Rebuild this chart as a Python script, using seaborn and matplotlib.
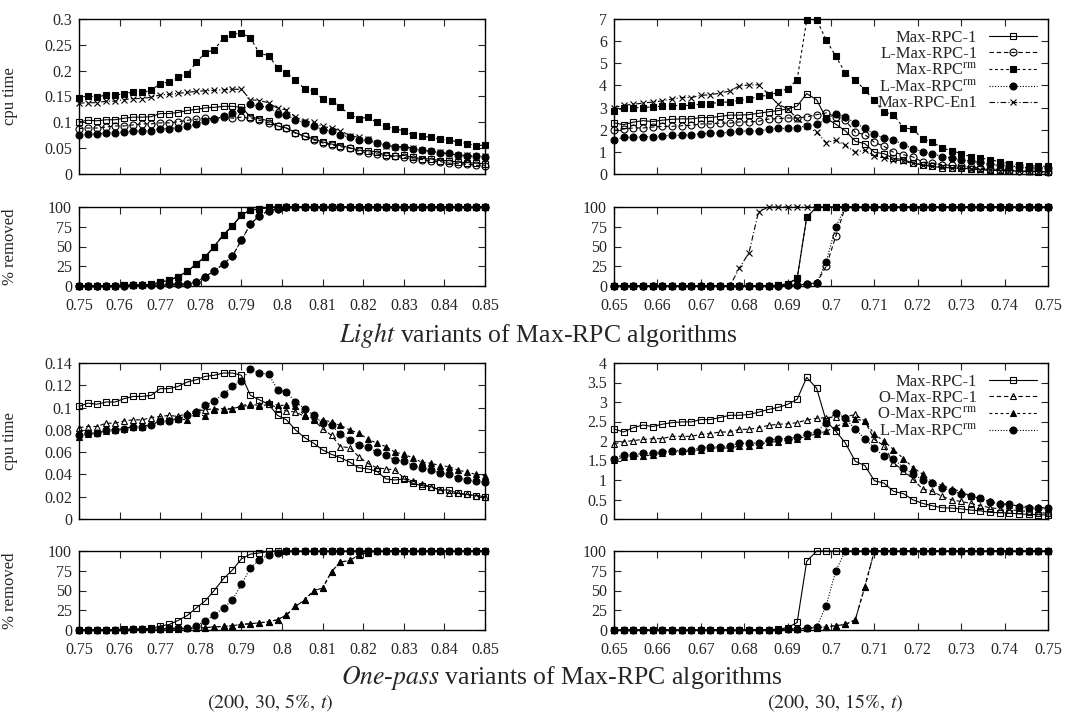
import matplotlib
matplotlib.use("Agg")
import matplotlib.pyplot as plt
import seaborn as sns
from matplotlib.ticker import FuncFormatter

sns.set_style("ticks")
plt.rcParams["font.family"] = ["Liberation Serif", "DejaVu Serif"]
plt.rcParams["mathtext.fontset"] = "stix"

# tightness values (x axis)
T_5 = [0.7500, 0.7522, 0.7544, 0.7567, 0.7589, 0.7611, 0.7633, 0.7656, 0.7678, 0.7700,
       0.7722, 0.7744, 0.7767, 0.7789, 0.7811, 0.7833, 0.7856, 0.7878, 0.7900, 0.7922,
       0.7944, 0.7967, 0.7989, 0.8011, 0.8033, 0.8056, 0.8078, 0.8100, 0.8122, 0.8144,
       0.8167, 0.8189, 0.8211, 0.8233, 0.8256, 0.8278, 0.8300, 0.8322, 0.8344, 0.8367,
       0.8389, 0.8411, 0.8433, 0.8456, 0.8478, 0.8500]
T_15 = [0.6500, 0.6522, 0.6544, 0.6567, 0.6589, 0.6611, 0.6633, 0.6656, 0.6678, 0.6700,
        0.6722, 0.6744, 0.6767, 0.6789, 0.6811, 0.6833, 0.6856, 0.6878, 0.6900, 0.6922,
        0.6944, 0.6967, 0.6989, 0.7011, 0.7033, 0.7056, 0.7078, 0.7100, 0.7122, 0.7144,
        0.7167, 0.7189, 0.7211, 0.7233, 0.7256, 0.7278, 0.7300, 0.7322, 0.7344, 0.7367,
        0.7389, 0.7411, 0.7433, 0.7456, 0.7478, 0.7500]

# cpu time, (200, 30, 5%, t)
MAXRPC1_5 = [0.101, 0.104, 0.103, 0.105, 0.105, 0.108, 0.110, 0.110, 0.111, 0.117,
             0.117, 0.119, 0.123, 0.125, 0.128, 0.129, 0.131, 0.131, 0.129, 0.111,
             0.107, 0.103, 0.093, 0.089, 0.080, 0.073, 0.068, 0.062, 0.058, 0.055,
             0.051, 0.046, 0.045, 0.043, 0.036, 0.035, 0.036, 0.032, 0.030, 0.029,
             0.026, 0.026, 0.023, 0.022, 0.021, 0.020]
LMAXRPC1_5 = [0.088, 0.089, 0.089, 0.091, 0.093, 0.093, 0.095, 0.097, 0.097, 0.099,
              0.099, 0.101, 0.104, 0.106, 0.108, 0.107, 0.110, 0.108, 0.110, 0.108,
              0.104, 0.099, 0.093, 0.089, 0.079, 0.073, 0.066, 0.060, 0.056, 0.053,
              0.050, 0.044, 0.041, 0.039, 0.035, 0.034, 0.032, 0.029, 0.028, 0.025,
              0.024, 0.021, 0.020, 0.019, 0.017, 0.016]
MAXRPCRM_5 = [0.148, 0.151, 0.149, 0.153, 0.153, 0.155, 0.159, 0.158, 0.162, 0.175,
              0.178, 0.187, 0.194, 0.216, 0.235, 0.240, 0.264, 0.270, 0.273, 0.264,
              0.234, 0.229, 0.206, 0.196, 0.181, 0.165, 0.161, 0.145, 0.142, 0.129,
              0.115, 0.107, 0.110, 0.100, 0.092, 0.087, 0.084, 0.075, 0.073, 0.071,
              0.067, 0.066, 0.062, 0.059, 0.055, 0.056]
LMAXRPCRM_5 = [0.075, 0.077, 0.077, 0.080, 0.080, 0.081, 0.083, 0.083, 0.084, 0.088,
               0.088, 0.090, 0.093, 0.096, 0.102, 0.106, 0.112, 0.119, 0.124, 0.135,
               0.131, 0.130, 0.116, 0.114, 0.105, 0.099, 0.093, 0.086, 0.084, 0.076,
               0.071, 0.066, 0.065, 0.060, 0.057, 0.053, 0.052, 0.048, 0.046, 0.044,
               0.041, 0.040, 0.037, 0.035, 0.034, 0.033]
MAXRPCEN1_5 = [0.137, 0.138, 0.138, 0.141, 0.141, 0.144, 0.146, 0.146, 0.149, 0.153,
               0.154, 0.156, 0.158, 0.160, 0.161, 0.162, 0.163, 0.164, 0.164, 0.144,
               0.142, 0.138, 0.127, 0.124, 0.111, 0.102, 0.100, 0.092, 0.089, 0.084,
               0.074, 0.071, 0.068, 0.060, 0.055, 0.053, 0.053, 0.050, 0.046, 0.044,
               0.042, 0.039, 0.037, 0.036, 0.034, 0.034]
OMAXRPC1_5 = [0.082, 0.083, 0.083, 0.086, 0.086, 0.088, 0.089, 0.089, 0.091, 0.092,
              0.093, 0.092, 0.095, 0.097, 0.098, 0.099, 0.099, 0.099, 0.101, 0.102,
              0.101, 0.103, 0.100, 0.097, 0.096, 0.092, 0.089, 0.081, 0.075, 0.065,
              0.064, 0.056, 0.050, 0.046, 0.045, 0.044, 0.037, 0.034, 0.031, 0.029,
              0.026, 0.023, 0.023, 0.022, 0.021, 0.020]
OMAXRPCRM_5 = [0.074, 0.076, 0.077, 0.079, 0.080, 0.081, 0.083, 0.083, 0.085, 0.088,
               0.089, 0.090, 0.089, 0.095, 0.092, 0.098, 0.098, 0.099, 0.102, 0.103,
               0.102, 0.105, 0.102, 0.102, 0.101, 0.093, 0.090, 0.089, 0.087, 0.084,
               0.080, 0.077, 0.072, 0.068, 0.065, 0.060, 0.058, 0.055, 0.051, 0.050,
               0.048, 0.047, 0.044, 0.042, 0.040, 0.039]

# cpu time, (200, 30, 15%, t)
MAXRPC1_15 = [2.31, 2.23, 2.34, 2.41, 2.37, 2.43, 2.47, 2.49, 2.49, 2.55,
              2.55, 2.60, 2.66, 2.66, 2.68, 2.74, 2.81, 2.86, 2.94, 3.07,
              3.63, 3.35, 2.51, 2.25, 1.95, 1.48, 1.37, 0.98, 0.92, 0.71,
              0.65, 0.49, 0.40, 0.34, 0.29, 0.28, 0.26, 0.23, 0.21, 0.17,
              0.16, 0.15, 0.13, 0.12, 0.11, 0.10]
LMAXRPC1_15 = [1.97, 2.03, 2.08, 2.08, 2.12, 2.15, 2.15, 2.18, 2.20, 2.26,
               2.26, 2.30, 2.30, 2.35, 2.35, 2.38, 2.48, 2.50, 2.53, 2.53,
               2.58, 2.68, 2.76, 2.58, 2.42, 1.88, 1.78, 1.43, 1.25, 0.98,
               0.87, 0.77, 0.54, 0.50, 0.42, 0.39, 0.35, 0.30, 0.27, 0.23,
               0.20, 0.17, 0.14, 0.12, 0.12, 0.09]
MAXRPCRM_15 = [2.83, 2.98, 3.00, 3.00, 3.03, 3.06, 3.09, 3.09, 3.10, 3.16,
               3.18, 3.24, 3.25, 3.33, 3.38, 3.51, 3.55, 3.69, 3.86, 4.26,
               6.94, 6.97, 6.04, 5.32, 4.56, 4.26, 3.78, 3.33, 2.80, 2.68,
               2.08, 2.03, 1.58, 1.45, 1.17, 1.05, 0.92, 0.78, 0.72, 0.65,
               0.55, 0.47, 0.42, 0.38, 0.35, 0.35]
LMAXRPCRM_15 = [1.55, 1.65, 1.65, 1.68, 1.69, 1.72, 1.75, 1.75, 1.78, 1.82,
                1.85, 1.85, 1.88, 1.94, 1.94, 1.95, 2.02, 2.06, 2.06, 2.10,
                2.17, 2.24, 2.47, 2.73, 2.58, 2.30, 2.06, 1.82, 1.61, 1.55,
                1.31, 1.15, 1.01, 0.92, 0.79, 0.73, 0.64, 0.58, 0.53, 0.43,
                0.39, 0.38, 0.32, 0.28, 0.28, 0.28]
MAXRPCEN1_15 = [3.00, 3.10, 3.15, 3.20, 3.25, 3.30, 3.38, 3.45, 3.45, 3.55,
                3.58, 3.65, 3.75, 3.98, 4.02, 4.03, 3.60, 3.15, 2.95, 2.50,
                2.15, 1.88, 1.42, 1.52, 1.30, 0.98, 1.08, 0.82, 0.72, 0.65,
                0.58, 0.48, 0.42, 0.38, 0.30, 0.28, 0.25, 0.22, 0.20, 0.18,
                0.15, 0.13, 0.12, 0.10, 0.10, 0.08]
OMAXRPC1_15 = [1.93, 1.98, 2.01, 2.04, 2.06, 2.06, 2.12, 2.12, 2.12, 2.17,
               2.19, 2.23, 2.23, 2.30, 2.30, 2.34, 2.40, 2.43, 2.44, 2.47,
               2.54, 2.58, 2.60, 2.62, 2.62, 2.68, 2.51, 2.04, 1.88, 1.44,
               1.24, 1.02, 0.77, 0.71, 0.58, 0.49, 0.45, 0.40, 0.34, 0.29,
               0.26, 0.23, 0.22, 0.19, 0.16, 0.15]
OMAXRPCRM_15 = [1.51, 1.59, 1.61, 1.61, 1.65, 1.68, 1.74, 1.74, 1.74, 1.78,
                1.82, 1.82, 1.82, 1.87, 1.88, 1.91, 1.97, 1.98, 2.02, 2.06,
                2.12, 2.18, 2.25, 2.37, 2.47, 2.57, 2.51, 2.17, 2.00, 1.78,
                1.55, 1.32, 1.15, 0.96, 0.86, 0.77, 0.71, 0.58, 0.53, 0.45,
                0.40, 0.36, 0.34, 0.32, 0.30, 0.28]

# % removed
REM_MAXRPC_5 = [0, 0, 0, 0, 0.5, 1, 1, 1, 2, 5,
                7, 12, 18.5, 28, 37, 50, 65, 76, 90, 96,
                97.5, 99.5, 100, 100, 100, 100, 100, 100, 100, 100,
                100, 100, 100, 100, 100, 100, 100, 100, 100, 100,
                100, 100, 100, 100, 100, 100]
REM_LMAXRPC_5 = [0, 0, 0, 0, 0.5, 0.5, 1, 1, 1, 1.5,
                 2, 2, 2.5, 5, 12, 19, 28, 38, 58, 78,
                 89, 95, 98, 100, 100, 100, 100, 100, 100, 100,
                 100, 100, 100, 100, 100, 100, 100, 100, 100, 100,
                 100, 100, 100, 100, 100, 100]
REM_OMAXRPC_5 = [0, 0, 0, 0, 0.5, 0.5, 1, 1, 1, 1.5,
                 1.5, 1.5, 2, 2.5, 3, 4, 4.5, 5.5, 7, 8,
                 9, 10.5, 13, 19, 30, 38, 50, 53, 74, 86,
                 88, 95, 98, 100, 100, 100, 100, 100, 100, 100,
                 100, 100, 100, 100, 100, 100]
REM_MAXRPC_15 = [0, 0, 0, 0, 0, 0, 0, 0, 0, 0,
                 0, 0, 0, 0, 0, 0.5, 0.5, 1, 3, 9.5,
                 87, 100, 100, 100, 100, 100, 100, 100, 100, 100,
                 100, 100, 100, 100, 100, 100, 100, 100, 100, 100,
                 100, 100, 100, 100, 100, 100]
REM_LMAXRPC1_15 = [0, 0, 0, 0, 0, 0, 0, 0, 0, 0,
                   0, 0, 0, 0, 0, 0.5, 0.5, 0.5, 1, 1,
                   2.5, 4, 25, 63, 100, 100, 100, 100, 100, 100,
                   100, 100, 100, 100, 100, 100, 100, 100, 100, 100,
                   100, 100, 100, 100, 100, 100]
REM_LMAXRPCRM_15 = [0, 0, 0, 0, 0, 0, 0, 0, 0, 0,
                    0, 0, 0, 0, 0, 0.5, 0.5, 0.5, 1, 1,
                    2.5, 4, 31, 75, 100, 100, 100, 100, 100, 100,
                    100, 100, 100, 100, 100, 100, 100, 100, 100, 100,
                    100, 100, 100, 100, 100, 100]
REM_MAXRPCEN1_15 = [0, 0, 0, 0, 0, 0, 0, 0, 0, 0,
                    0, 0, 0, 23, 42, 94, 100, 100, 100, 100,
                    100, 100, 100, 100, 100, 100, 100, 100, 100, 100,
                    100, 100, 100, 100, 100, 100, 100, 100, 100, 100,
                    100, 100, 100, 100, 100, 100]
REM_OMAXRPC_15 = [0, 0, 0, 0, 0, 0, 0, 0, 0, 0,
                  0, 0, 0, 0, 0, 0, 0, 0.5, 1, 1.5,
                  2, 3, 4, 5.5, 7, 13, 55, 100, 100, 100,
                  100, 100, 100, 100, 100, 100, 100, 100, 100, 100,
                  100, 100, 100, 100, 100, 100]

XT_5 = [0.75, 0.76, 0.77, 0.78, 0.79, 0.80, 0.81, 0.82, 0.83, 0.84, 0.85]
XT_15 = [0.65, 0.66, 0.67, 0.68, 0.69, 0.70, 0.71, 0.72, 0.73, 0.74, 0.75]
REM_TICKS = [0, 25, 50, 75, 100]

L_MAXRPC1 = "Max-RPC-1"
L_LMAXRPC1 = "L-Max-RPC-1"
L_MAXRPCRM = r"Max-RPC$^{\mathrm{rm}}$"
L_LMAXRPCRM = r"L-Max-RPC$^{\mathrm{rm}}$"
L_EN1 = "Max-RPC-En1"
L_OMAXRPC1 = "O-Max-RPC-1"
L_OMAXRPCRM = r"O-Max-RPC$^{\mathrm{rm}}$"

STYLES = {
    L_MAXRPC1:   dict(marker="s", mfc="none", ms=4.8, linestyle="-"),
    L_LMAXRPC1:  dict(marker="o", mfc="none", ms=5.0, linestyle=(0, (4, 2.5))),
    L_MAXRPCRM:  dict(marker="s", mfc="black", ms=4.8, linestyle=(0, (2.5, 2.5))),
    L_LMAXRPCRM: dict(marker="o", mfc="black", ms=5.0, linestyle=(0, (1, 1.5))),
    L_EN1:       dict(marker="x", mfc="black", ms=5.0, linestyle=(0, (5, 2, 1, 2))),
    L_OMAXRPC1:  dict(marker="^", mfc="none", ms=5.0, linestyle=(0, (4, 2.5))),
    L_OMAXRPCRM: dict(marker="^", mfc="black", ms=4.2, linestyle=(0, (2.5, 2.5))),
}

W, H = 1078, 717
fig = plt.figure(figsize=(W / 100, H / 100), dpi=100)


def box(x0, y0, x1, y1):
    return [x0 / W, 1 - y1 / H, (x1 - x0) / W, (y1 - y0) / H]


def draw(ax, x, y, label):
    st = STYLES[label]
    sns.lineplot(x=x, y=y, ax=ax, color="black", marker=st["marker"],
                 linestyle=st["linestyle"], lw=0.8, markersize=st["ms"],
                 mfc=st["mfc"], mec="black", mew=0.8, label=label,
                 legend=False, errorbar=None, clip_on=False, sort=False)


def style_axes(ax, xlim, xticks, ylim, yticks, show_x):
    ax.set_xlim(*xlim)
    ax.set_ylim(*ylim)
    ax.set_xticks(xticks)
    ax.set_yticks(yticks)
    fmt = FuncFormatter(lambda v, p: f"{v:g}")
    ax.xaxis.set_major_formatter(fmt)
    ax.yaxis.set_major_formatter(fmt)
    ax.tick_params(direction="in", top=True, right=True, length=5, width=0.8,
                   labelsize=11.5, labelbottom=show_x)
    ax.tick_params(axis="x", pad=8.5)
    ax.tick_params(axis="y", pad=5)
    ax.minorticks_off()
    for s in ax.spines.values():
        s.set_visible(True)
        s.set_linewidth(1.0)
        s.set_color("black")
    ax.set_xlabel("")
    ax.set_ylabel("")


ax_tl = fig.add_axes(box(79, 19, 485, 174))
ax_tlr = fig.add_axes(box(79, 207, 485, 286))
ax_tr = fig.add_axes(box(614, 19, 1048, 174))
ax_trr = fig.add_axes(box(614, 207, 1048, 286))
ax_bl = fig.add_axes(box(79, 363, 485, 519))
ax_blr = fig.add_axes(box(79, 551, 485, 630))
ax_br = fig.add_axes(box(614, 363, 1048, 519))
ax_brr = fig.add_axes(box(614, 551, 1048, 630))

# Light variants, 5%
draw(ax_tl, T_5, MAXRPC1_5, L_MAXRPC1)
draw(ax_tl, T_5, LMAXRPC1_5, L_LMAXRPC1)
draw(ax_tl, T_5, MAXRPCRM_5, L_MAXRPCRM)
draw(ax_tl, T_5, LMAXRPCRM_5, L_LMAXRPCRM)
draw(ax_tl, T_5, MAXRPCEN1_5, L_EN1)
draw(ax_tlr, T_5, REM_MAXRPC_5, L_MAXRPC1)
draw(ax_tlr, T_5, REM_LMAXRPC_5, L_LMAXRPC1)
draw(ax_tlr, T_5, REM_MAXRPC_5, L_EN1)
draw(ax_tlr, T_5, REM_LMAXRPC_5, L_LMAXRPCRM)
draw(ax_tlr, T_5, REM_MAXRPC_5, L_MAXRPCRM)

# Light variants, 15%
draw(ax_tr, T_15, MAXRPC1_15, L_MAXRPC1)
draw(ax_tr, T_15, LMAXRPC1_15, L_LMAXRPC1)
draw(ax_tr, T_15, MAXRPCRM_15, L_MAXRPCRM)
draw(ax_tr, T_15, LMAXRPCRM_15, L_LMAXRPCRM)
draw(ax_tr, T_15, MAXRPCEN1_15, L_EN1)
draw(ax_trr, T_15, REM_MAXRPC_15, L_MAXRPC1)
draw(ax_trr, T_15, REM_LMAXRPC1_15, L_LMAXRPC1)
draw(ax_trr, T_15, REM_LMAXRPCRM_15, L_LMAXRPCRM)
draw(ax_trr, T_15, REM_MAXRPCEN1_15, L_EN1)
draw(ax_trr, T_15, REM_MAXRPC_15, L_MAXRPCRM)

# One-pass variants, 5%
draw(ax_bl, T_5, MAXRPC1_5, L_MAXRPC1)
draw(ax_bl, T_5, OMAXRPC1_5, L_OMAXRPC1)
draw(ax_bl, T_5, OMAXRPCRM_5, L_OMAXRPCRM)
draw(ax_bl, T_5, LMAXRPCRM_5, L_LMAXRPCRM)
draw(ax_blr, T_5, REM_MAXRPC_5, L_MAXRPC1)
draw(ax_blr, T_5, REM_OMAXRPC_5, L_OMAXRPC1)
draw(ax_blr, T_5, REM_OMAXRPC_5, L_OMAXRPCRM)
draw(ax_blr, T_5, REM_LMAXRPC_5, L_LMAXRPCRM)

# One-pass variants, 15%
draw(ax_br, T_15, MAXRPC1_15, L_MAXRPC1)
draw(ax_br, T_15, OMAXRPC1_15, L_OMAXRPC1)
draw(ax_br, T_15, OMAXRPCRM_15, L_OMAXRPCRM)
draw(ax_br, T_15, LMAXRPCRM_15, L_LMAXRPCRM)
draw(ax_brr, T_15, REM_MAXRPC_15, L_MAXRPC1)
draw(ax_brr, T_15, REM_OMAXRPC_15, L_OMAXRPC1)
draw(ax_brr, T_15, REM_OMAXRPC_15, L_OMAXRPCRM)
draw(ax_brr, T_15, REM_LMAXRPCRM_15, L_LMAXRPCRM)

style_axes(ax_tl, (0.75, 0.85), XT_5, (0, 0.3),
           [0, 0.05, 0.1, 0.15, 0.2, 0.25, 0.3], False)
style_axes(ax_tlr, (0.75, 0.85), XT_5, (0, 100), REM_TICKS, True)
style_axes(ax_tr, (0.65, 0.75), XT_15, (0, 7), [0, 1, 2, 3, 4, 5, 6, 7], False)
style_axes(ax_trr, (0.65, 0.75), XT_15, (0, 100), REM_TICKS, True)
style_axes(ax_bl, (0.75, 0.85), XT_5, (0, 0.14),
           [0, 0.02, 0.04, 0.06, 0.08, 0.1, 0.12, 0.14], False)
style_axes(ax_blr, (0.75, 0.85), XT_5, (0, 100), REM_TICKS, True)
style_axes(ax_br, (0.65, 0.75), XT_15, (0, 4),
           [0, 0.5, 1, 1.5, 2, 2.5, 3, 3.5, 4], False)
style_axes(ax_brr, (0.65, 0.75), XT_15, (0, 100), REM_TICKS, True)

for ax, lab in [(ax_tl, "cpu time"), (ax_tlr, "% removed"),
                (ax_bl, "cpu time"), (ax_blr, "% removed")]:
    ax.set_ylabel(lab, fontsize=12)
    ax.yaxis.set_label_coords(-0.15, 0.5)

for ax in (ax_tr, ax_br):
    ax.legend(loc="upper right", frameon=False, markerfirst=False,
              handlelength=2.9, fontsize=12, labelspacing=0.0,
              borderaxespad=0.25, handletextpad=0.7)

fig.text(538 / W, 1 - 342 / H, r"$\mathit{Light}$ variants of Max-RPC algorithms",
         ha="center", va="baseline", fontsize=18.5)
fig.text(562 / W, 1 - 684 / H,
         r"$\mathit{One}$-$\mathit{pass}$ variants of Max-RPC algorithms",
         ha="center", va="baseline", fontsize=18.5)
fig.text(270 / W, 1 - 703 / H, r"$(200,\,30,\,5\%,\,t)$",
         ha="center", va="center", fontsize=14.5)
fig.text(835 / W, 1 - 703 / H, r"$(200,\,30,\,15\%,\,t)$",
         ha="center", va="center", fontsize=14.5)

fig.savefig("out.png", dpi=100, facecolor="white")
